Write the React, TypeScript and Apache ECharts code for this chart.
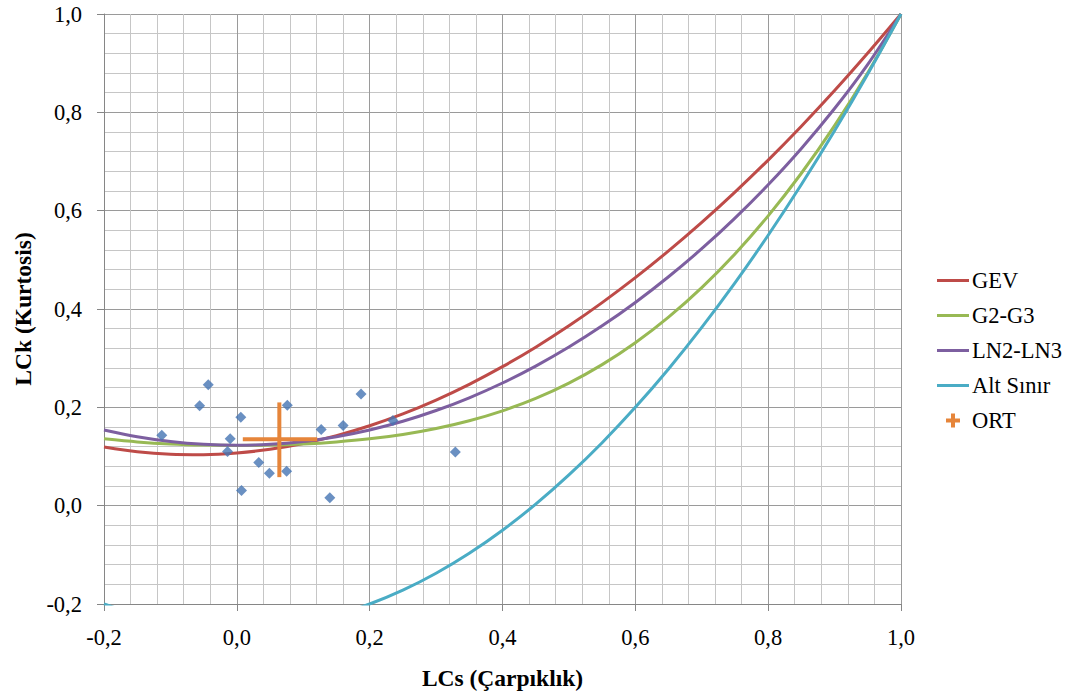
import React, { useEffect, useRef } from 'react';
import * as echarts from 'echarts';

// LCs (x) sample positions used for the theoretical curves
const xs = [-0.2, -0.15, -0.1, -0.05, 0, 0.05, 0.1, 0.15, 0.2, 0.25, 0.3, 0.35, 0.4, 0.45, 0.5, 0.55, 0.6, 0.65, 0.7, 0.75, 0.8, 0.85, 0.9, 0.95, 1.0];
const gev = [0.1193, 0.1097, 0.1045, 0.1036, 0.107, 0.1147, 0.1265, 0.1425, 0.1626, 0.1867, 0.2148, 0.2468, 0.2827, 0.3224, 0.3658, 0.413, 0.4638, 0.5182, 0.5762, 0.6378, 0.7029, 0.7718, 0.8443, 0.9206, 1.0];
const g2g3 = [0.1359, 0.1297, 0.1255, 0.1232, 0.1224, 0.1232, 0.1255, 0.1297, 0.1359, 0.1448, 0.1569, 0.1727, 0.1929, 0.2182, 0.2493, 0.2869, 0.3314, 0.3835, 0.4435, 0.512, 0.5894, 0.6761, 0.7729, 0.8806, 1.0];
const ln2ln3 = [0.154, 0.1403, 0.1306, 0.1248, 0.1228, 0.1248, 0.1306, 0.1403, 0.154, 0.1717, 0.1935, 0.2194, 0.2495, 0.2839, 0.3226, 0.3657, 0.4133, 0.4656, 0.5226, 0.5848, 0.6526, 0.7265, 0.8077, 0.8976, 1.0];
const altSinir = [-0.2, -0.2219, -0.2375, -0.2469, -0.25, -0.2469, -0.2375, -0.2219, -0.2, -0.1719, -0.1375, -0.0969, -0.05, 0.0031, 0.0625, 0.1281, 0.2, 0.2781, 0.3625, 0.4531, 0.55, 0.6531, 0.7625, 0.8781, 1.0];

// Station points (LCs, LCk)
const pointsX = [-0.113, -0.043, -0.056, 0.006, -0.010, -0.014, 0.033, 0.049, 0.075, 0.076, 0.007, 0.127, 0.160, 0.187, 0.235, 0.140, 0.329];
const pointsY = [0.143, 0.246, 0.203, 0.180, 0.136, 0.110, 0.088, 0.066, 0.070, 0.204, 0.031, 0.155, 0.163, 0.227, 0.173, 0.016, 0.109];

// ORT (mean) cross
const ortCenter = [0.064, 0.135];
const ortXRange = [0.009, 0.121];
const ortYRange = [0.058, 0.210];

const legendNames = ['GEV', 'G2-G3', 'LN2-LN3', 'Alt Sınır', 'ORT'];

const FONT = "'Liberation Serif', 'Times New Roman', serif";
const C_GEV = '#BE4B48';
const C_G2 = '#98B954';
const C_LN = '#7D5FA0';
const C_ALT = '#4AACC5';
const C_ORT = '#E6853A';
const C_PT = '#4574B3';

const LINE_ICON = 'path://M0,0H32V3H0Z';
const PLUS_ICON = 'path://M5,0H9V5H14V9H9V14H5V9H0V5H5Z';

const fmt = (v: number) => {
  const n = Math.abs(v) < 1e-9 ? 0 : v;
  return n.toFixed(1).replace('.', ',');
};

export default function App() {
  const ref = useRef<HTMLDivElement>(null);
  useEffect(() => {
    if (!ref.current) return;
    const chart = echarts.init(ref.current, undefined, { renderer: 'svg' });
    const curve = (name: string, ys: number[], color: string) => ({
      name,
      type: 'line',
      data: xs.map((x, i) => [x, ys[i]]),
      smooth: 0.3,
      symbol: 'none',
      showSymbol: false,
      clip: true,
      itemStyle: { color },
      lineStyle: { color, width: 3 },
      z: 2,
    });
    const axisCommon = {
      type: 'value',
      min: -0.2,
      max: 1.0,
      interval: 0.2,
      axisLine: { show: true, onZero: false, lineStyle: { color: '#868686', width: 1 } },
      axisTick: { show: true, inside: false, length: 7, lineStyle: { color: '#868686' } },
      minorTick: { show: false, splitNumber: 5 },
      splitLine: { show: true, lineStyle: { color: '#9a9a9a', width: 1 } },
      minorSplitLine: { show: true, lineStyle: { color: '#c6c6c6', width: 1 } },
      axisLabel: { color: '#000', fontFamily: FONT, fontSize: 22.5, formatter: fmt, margin: 22 },
      nameTextStyle: { color: '#000', fontFamily: FONT, fontSize: 23.5, fontWeight: 'bold' },
      nameLocation: 'middle',
    };
    const lineColors = [C_GEV, C_G2, C_LN, C_ALT];
    chart.setOption({
      animation: false,
      backgroundColor: '#fff',
      grid: { left: 104, right: 172, top: 14, bottom: 96, containLabel: false },
      xAxis: { ...axisCommon, name: 'LCs (Çarpıklık)', nameGap: 62 },
      yAxis: { ...axisCommon, name: 'LCk (Kurtosis)', nameGap: 68 },
      legend: {
        orient: 'vertical',
        left: 932,
        top: 264,
        itemWidth: 32,
        itemHeight: 14,
        itemGap: 12,
        selectedMode: false,
        textStyle: { color: '#000', fontFamily: FONT, fontSize: 22.5, lineHeight: 22, padding: [0, 0, 0, -2] },
        data: [
          ...lineColors.map((c, i) => ({ name: legendNames[i], icon: LINE_ICON, itemStyle: { color: c } })),
          { name: legendNames[4], icon: PLUS_ICON, itemStyle: { color: C_ORT } },
        ],
      },
      series: [
        curve('GEV', gev, C_GEV),
        curve('G2-G3', g2g3, C_G2),
        curve('LN2-LN3', ln2ln3, C_LN),
        curve('Alt Sınır', altSinir, C_ALT),
        {
          name: 'Veri',
          type: 'scatter',
          symbol: 'diamond',
          symbolSize: 11,
          itemStyle: { color: C_PT },
          data: pointsX.map((x, i) => [x, pointsY[i]]),
          z: 3,
        },
        {
          name: 'ORT',
          type: 'line',
          symbol: 'none',
          itemStyle: { color: C_ORT },
          lineStyle: { color: C_ORT, width: 4 },
          data: [[ortXRange[0], ortCenter[1]], [ortXRange[1], ortCenter[1]]],
          z: 4,
        },
        {
          name: 'ORT',
          type: 'line',
          symbol: 'none',
          itemStyle: { color: C_ORT },
          lineStyle: { color: C_ORT, width: 4 },
          data: [[ortCenter[0], ortYRange[0]], [ortCenter[0], ortYRange[1]]],
          z: 4,
        },
      ],
    });
    return () => chart.dispose();
  }, []);
  return (
    <div
      ref={ref}
      style={{ position: 'fixed', left: 0, top: 0, width: 1073, height: 700, background: '#fff' }}
    />
  );
}
